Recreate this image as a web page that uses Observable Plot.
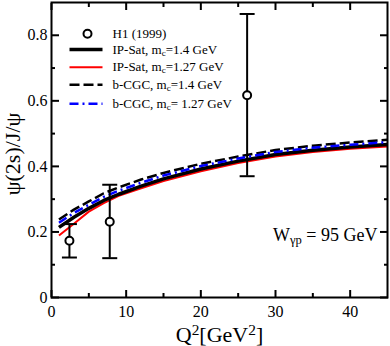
<!DOCTYPE html>
<html><head><meta charset="utf-8">
<script src="https://cdn.jsdelivr.net/npm/d3@7"></script>
<script src="https://cdn.jsdelivr.net/npm/@observablehq/plot@0.6"></script>
<style>body{margin:0;background:#fff}</style>
</head><body><div id="chart"></div>
<script>
// ---- data ----
const q2 = [1, 3, 5, 7, 9, 12, 15, 20, 25, 30, 35, 40, 45];
const ipSat14  = [0.214, 0.245, 0.272, 0.296, 0.315, 0.340, 0.362, 0.392, 0.416, 0.436, 0.449, 0.459, 0.467];
const ipSat127 = [0.189, 0.225, 0.262, 0.288, 0.310, 0.333, 0.355, 0.385, 0.410, 0.430, 0.444, 0.454, 0.461];
const bcgc14   = [0.238, 0.268, 0.293, 0.318, 0.336, 0.360, 0.380, 0.408, 0.430, 0.450, 0.463, 0.473, 0.481];
const bcgc127  = [0.228, 0.258, 0.283, 0.307, 0.326, 0.350, 0.372, 0.401, 0.424, 0.444, 0.457, 0.466, 0.474];
const h1Q2   = [2.4, 7.8, 26.2];
const h1Val  = [0.173, 0.231, 0.617];
const h1Low  = [0.122, 0.120, 0.370];
const h1High = [0.224, 0.344, 0.865];
const dataName = "H1 (1999)";
const seriesNames = ["IP-Sat, m_{c}=1.4 GeV", "IP-Sat, m_{c}=1.27 GeV", "b-CGC, m_{c}=1.4 GeV", "b-CGC, m_{c}= 1.27 GeV"];
const xMajor = [0, 10, 20, 30, 40];
const xMinor = [5, 15, 25, 35];
const yMajor = [0, 0.2, 0.4, 0.6, 0.8];
const yMinor = [0.1, 0.3, 0.5, 0.7];
const xTickLabels = ["0", "10", "20", "30", "40"];
const yTickLabels = ["0", "0.2", "0.4", "0.6", "0.8"];
const xTitle = "Q^{2}[GeV^{2}]";
const yTitle = "ψ(2s)/J/ψ";
const note = "W_{γp} = 95 GeV";

// ---- styles ----
const seriesValues = [ipSat14, ipSat127, bcgc14, bcgc127];
const styles = [
  {stroke: "#000", strokeWidth: 3.5, strokeDasharray: null},
  {stroke: "#ff0000", strokeWidth: 2, strokeDasharray: null},
  {stroke: "#000", strokeWidth: 2.5, strokeDasharray: "10,4"},
  {stroke: "#0000ff", strokeWidth: 2.5, strokeDasharray: "9,4,2,4"}
];
const drawOrder = [1, 0, 2, 3];
const font = "'Liberation Serif','Times New Roman',serif";

const h1 = h1Q2.map((x, i) => ({x, y: h1Val[i], lo: h1Low[i], hi: h1High[i]}));
const capSymbol = {draw(ctx, size) { const r = Math.sqrt(size / Math.PI); ctx.moveTo(-r, 0); ctx.lineTo(r, 0); }};

const marks = [];
// curves
for (const i of drawOrder) {
  const rows = q2.map((x, k) => ({x, y: seriesValues[i][k]}));
  marks.push(Plot.line(rows, {x: "x", y: "y", ...styles[i], strokeLinecap: "butt", strokeLinejoin: "round"}));
}
// data with error bars
marks.push(Plot.ruleX(h1, {x: "x", y1: "lo", y2: "hi", stroke: "#000", strokeWidth: 2}));
marks.push(Plot.dot(h1, {x: "x", y: "lo", symbol: capSymbol, r: 7.5, stroke: "#000", strokeWidth: 2, fill: "none"}));
marks.push(Plot.dot(h1, {x: "x", y: "hi", symbol: capSymbol, r: 7.5, stroke: "#000", strokeWidth: 2, fill: "none"}));
marks.push(Plot.dot(h1, {x: "x", y: "y", r: 4, stroke: "#000", strokeWidth: 2, fill: "#fff"}));

// ticks (inward, all four sides)
for (const anchor of ["bottom", "top"]) {
  marks.push(Plot.axisX(xMajor, {anchor, tickSize: -7, tickFormat: () => "", label: null, strokeWidth: 2}));
  marks.push(Plot.axisX(xMinor, {anchor, tickSize: -4, tickFormat: () => "", label: null, strokeWidth: 2}));
}
for (const anchor of ["left", "right"]) {
  marks.push(Plot.axisY(yMajor, {anchor, tickSize: -8, tickFormat: () => "", label: null, strokeWidth: 2}));
  marks.push(Plot.axisY(yMinor, {anchor, tickSize: -4, tickFormat: () => "", label: null, strokeWidth: 2}));
}
// tick labels
marks.push(Plot.text(xMajor, {x: d => d, text: (d, i) => xTickLabels[i], frameAnchor: "bottom", dy: 8, lineAnchor: "top", textAnchor: "middle", fontSize: 16, fontFamily: font}));
marks.push(Plot.text(yMajor, {y: d => d, text: (d, i) => yTickLabels[i], frameAnchor: "left", dx: -4, lineAnchor: "middle", textAnchor: "end", fontSize: 16, fontFamily: font}));

// axis titles
marks.push(Plot.text([xTitle], {text: d => d, frameAnchor: "bottom", dy: 44, lineAnchor: "bottom", fontSize: 22, fontFamily: font}));
marks.push(Plot.text([yTitle], {text: d => d, frameAnchor: "left", dx: -39, dy: 4, rotate: -90, textAnchor: "middle", lineAnchor: "middle", fontSize: 22, fontFamily: font}));
// annotation
marks.push(Plot.text([note], {text: d => d, frameAnchor: "bottom-right", dx: -10, dy: -62, textAnchor: "end", lineAnchor: "middle", fontSize: 18, fontFamily: font}));

// legend
const rowDy = [31.3, 47, 64.7, 82.3, 101.3];
marks.push(Plot.dot([dataName], {frameAnchor: "top-left", dx: 36, dy: rowDy[0], r: 4, stroke: "#000", strokeWidth: 2, fill: "#fff"}));
marks.push(Plot.text([dataName], {text: d => d, frameAnchor: "top-left", dx: 61, dy: rowDy[0], textAnchor: "start", lineAnchor: "middle", fontSize: 13, fontFamily: font}));
seriesNames.forEach((name, i) => {
  marks.push(Plot.vector([name], {frameAnchor: "top-left", dx: 18, dy: rowDy[i + 1], length: 33, rotate: 90, anchor: "start", r: 0, ...styles[i], strokeLinecap: "butt"}));
  marks.push(Plot.text([name], {text: d => d, frameAnchor: "top-left", dx: 61, dy: rowDy[i + 1], textAnchor: "start", lineAnchor: "middle", fontSize: 13, fontFamily: font}));
});

marks.push(Plot.frame({stroke: "#000", strokeWidth: 2}));

const svg = Plot.plot({
  width: 390, height: 346,
  marginLeft: 51, marginRight: 3, marginTop: 2, marginBottom: 49,
  x: {domain: [0, 45], axis: null},
  y: {domain: [0, 0.9], axis: null},
  style: {fontFamily: font, background: "#fff", color: "#000", overflow: "visible"},
  marks
});

// sub/superscripts
function richify(root) {
  root.querySelectorAll("text").forEach(t => {
    if (t.querySelector("tspan")) return;
    const s = t.textContent;
    if (!/[_^]\{/.test(s)) return;
    t.textContent = "";
    const re = /([_^])\{([^}]*)\}/g;
    let last = 0, m;
    const add = (str, kind) => {
      const ts = document.createElementNS("http://www.w3.org/2000/svg", "tspan");
      ts.textContent = str;
      if (kind) {
        ts.setAttribute("baseline-shift", kind === "_" ? "-25%" : "45%");
        ts.setAttribute("font-size", "70%");
      }
      t.appendChild(ts);
    };
    while ((m = re.exec(s))) {
      if (m.index > last) add(s.slice(last, m.index), null);
      add(m[2], m[1]);
      last = re.lastIndex;
    }
    if (last < s.length) add(s.slice(last), null);
  });
}
richify(svg);
document.getElementById("chart").appendChild(svg);
</script>
</body></html>
